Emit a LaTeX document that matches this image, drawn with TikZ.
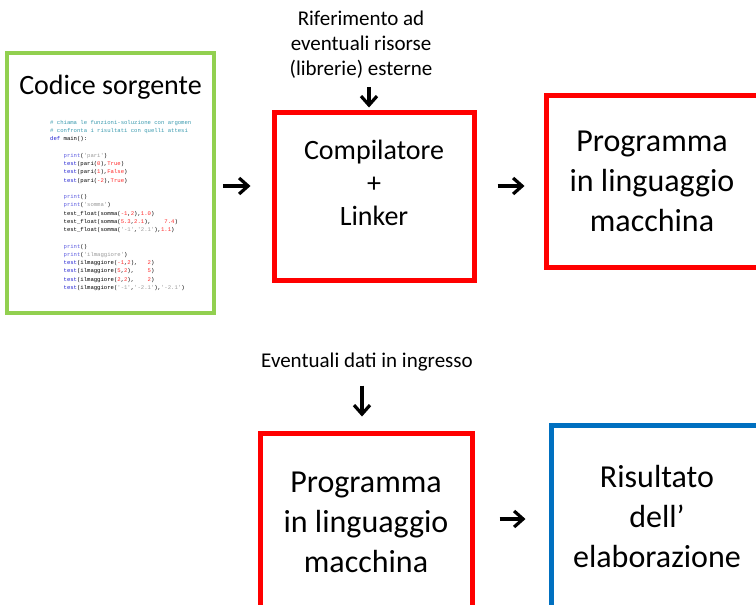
\documentclass[tikz,border=0pt]{standalone}
\usepackage{fontspec}
\setmainfont{Carlito}
\newfontfamily\codefont{Liberation Mono}
\usetikzlibrary{arrows.meta, positioning}

\definecolor{srcgreen}{HTML}{92D050}
\definecolor{progred}{HTML}{FF0000}
\definecolor{resblue}{HTML}{0070C0}
\definecolor{pycomment}{HTML}{3A9AAE}
\definecolor{pykeyword}{HTML}{2020D0}
\definecolor{pybuiltin}{HTML}{5A5AE0}
\definecolor{pynumber}{HTML}{FF2828}
\definecolor{pystring}{HTML}{9A9A9A}

% colori del listato
\newcommand{\pycom}[1]{\textcolor{pycomment}{#1}}
\newcommand{\pykw}[1]{\textcolor{pykeyword}{#1}}
\newcommand{\pybi}[1]{\textcolor{pybuiltin}{#1}}
\newcommand{\pynum}[1]{\textcolor{pynumber}{#1}}
\newcommand{\pystr}[1]{\textcolor{pystring}{#1}}
\newcommand{\pyind}{\hspace*{2.4em}}

\tikzset{
  box/.style = {rectangle, draw, line width=5pt, minimum width=212pt, minimum height=172pt, align=center, font=\fontsize{32}{40}\selectfont},
  arrow/.style = {line width=3.2pt, -{Straight Barb[length=9pt, width=16pt]}},
  note/.style = {align=center, font=\fontsize{21}{25}\selectfont}
}

\begin{document}
\begin{tikzpicture}[x=1pt, y=-1pt]
  \clip (0,0) rectangle (756,605);

  % Compilazione
  \node[box, draw=srcgreen, line width=3.5pt, minimum width=207pt, minimum height=260pt] (src) at (110.5,183) {};
  \node[font=\fontsize{28}{34}\selectfont] (srctitle) at (110.5,87) {Codice sorgente};
  \node[anchor=north west, inner sep=0pt, align=left, font=\codefont\fontsize{5.6}{8.25}\selectfont] (listing) at (50,120) {%
    \pycom{\# chiama le funzioni-soluzione con argomen}\\
    \pycom{\# confronta i risultati con quelli attesi}\\
    \pykw{def} main():\\[8.25pt]
    \pyind\pybi{print}(\pystr{'pari'})\\
    \pyind\pykw{test}(pari(\pynum{0}),\pynum{True})\\
    \pyind\pykw{test}(pari(\pynum{1}),\pynum{False})\\
    \pyind\pykw{test}(pari(\pynum{-2}),\pynum{True})\\[8.25pt]
    \pyind\pybi{print}()\\
    \pyind\pybi{print}(\pystr{'somma'})\\
    \pyind test\_float(somma(\pynum{-1},\pynum{2}),\pynum{1.0})\\
    \pyind test\_float(somma(\pynum{5.3},\pynum{2.1}),~~~~\pynum{7.4})\\
    \pyind test\_float(somma(\pystr{'-1'},\pystr{'2.1'}),\pynum{1.1})\\[8.25pt]
    \pyind\pybi{print}()\\
    \pyind\pybi{print}(\pystr{'ilmaggiore'})\\
    \pyind\pykw{test}(ilmaggiore(\pynum{-1},\pynum{2}),~~~\pynum{2})\\
    \pyind\pykw{test}(ilmaggiore(\pynum{5},\pynum{2}),~~~~\pynum{5})\\
    \pyind\pykw{test}(ilmaggiore(\pynum{2},\pynum{2}),~~~~\pynum{2})\\
    \pyind\pykw{test}(ilmaggiore(\pystr{'-1'},\pystr{'-2.1'}),\pystr{'-2.1'})};

  \node[box, draw=progred, minimum width=200pt, minimum height=168pt] (comp) at (374,196) {};
  \node[align=center, font=\fontsize{28}{33}\selectfont] (complabel) at ([yshift=13pt]comp.center) {Compilatore\\+\\Linker};
  \node[note] (libs) at (361,45) {Riferimento ad\\eventuali risorse\\(librerie) esterne};
  \node[box, draw=progred] (prog) at (652,181) {Programma\\in linguaggio\\macchina};

  % Esecuzione
  \node[note] (input) at (367,362) {Eventuali dati in ingresso};
  \node[box, draw=progred, minimum height=178pt] (run) at (366,522) {Programma\\in linguaggio\\macchina};
  \node[box, draw=resblue, minimum height=184pt] (res) at (657,517) {Risultato\\dell’\\elaborazione};

  % Frecce
  \draw[arrow, shorten <=7pt, shorten >=21pt] ([yshift=-3pt]src.east) -- ([yshift=10pt]comp.west);
  \draw[arrow, shorten <=21pt, shorten >=19pt] ([yshift=10pt]comp.east) -- ([yshift=-5pt]prog.west);
  \draw[arrow, shorten <=5pt, shorten >=2pt] ([xshift=8pt]libs.south) -- ([xshift=8pt]libs.south |- comp.north);
  \draw[arrow, shorten <=11pt, shorten >=14pt] ([xshift=-5pt]input.south) -- ([xshift=-5pt]input.south |- run.north);
  \draw[arrow, shorten <=25pt, shorten >=23pt] ([yshift=3pt]run.east) -- ([yshift=-2pt]res.west);
\end{tikzpicture}
\end{document}
